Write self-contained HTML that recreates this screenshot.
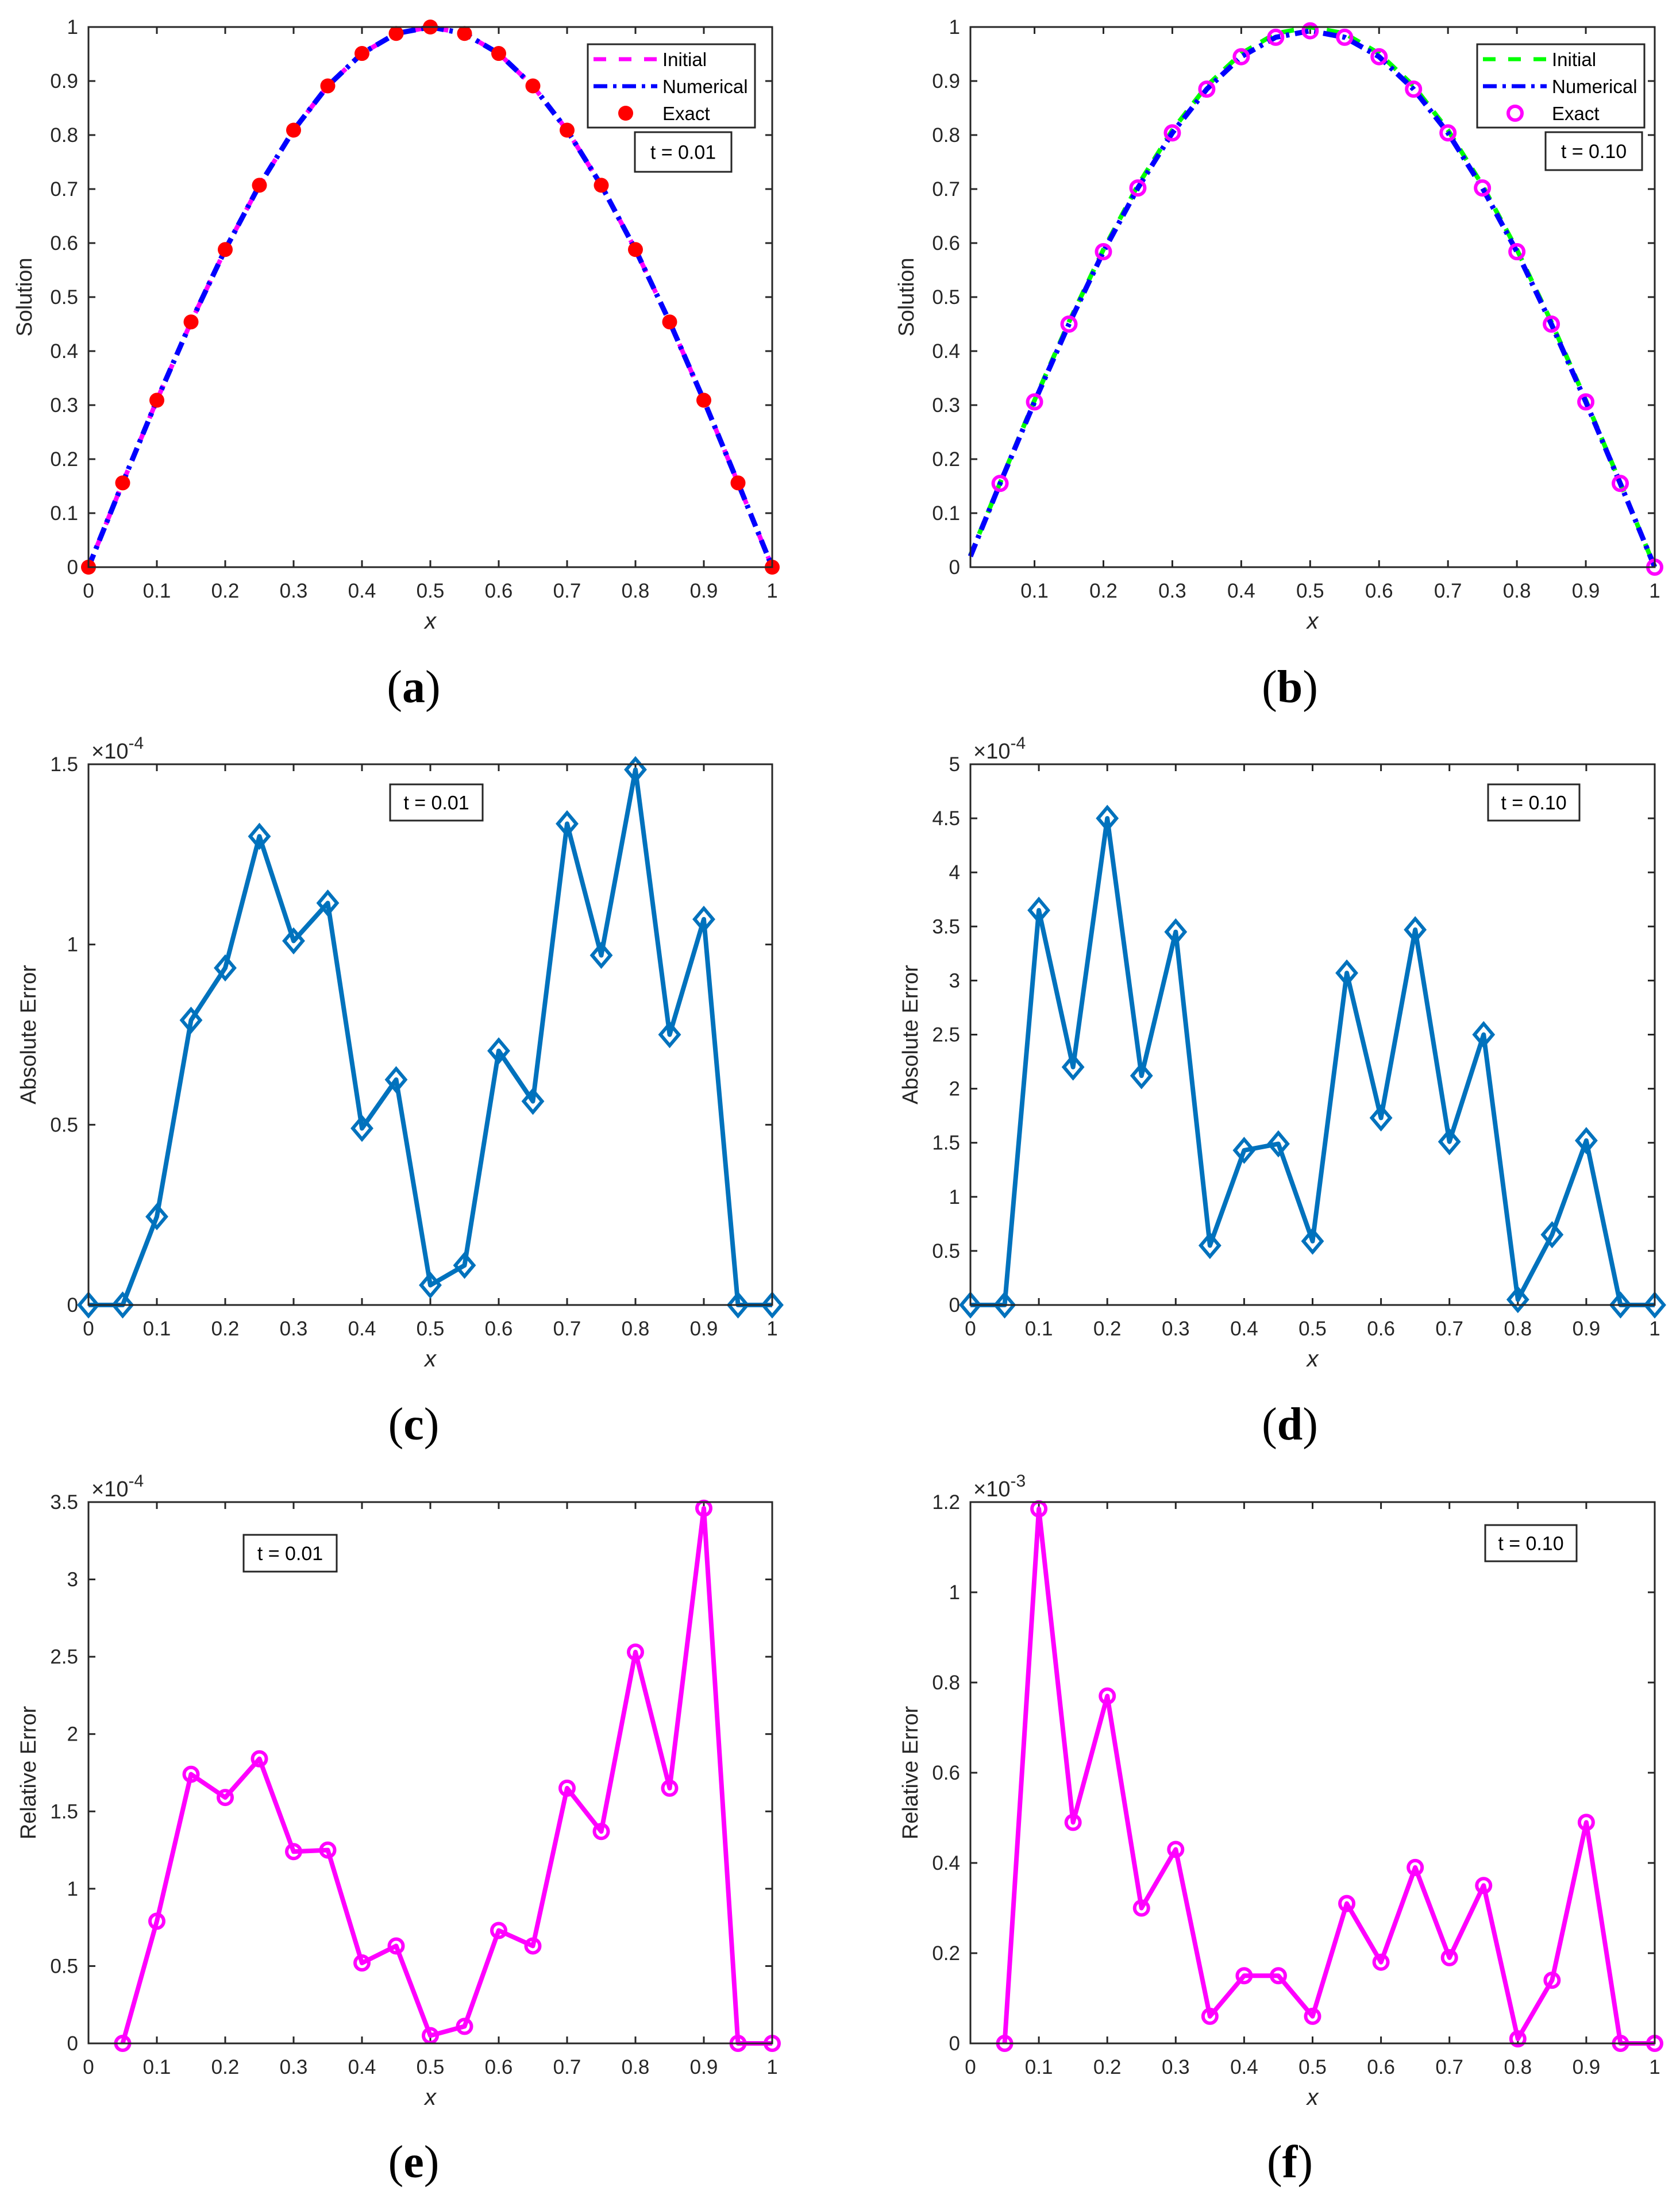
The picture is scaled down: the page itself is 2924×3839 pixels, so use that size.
<!DOCTYPE html>
<html><head><meta charset="utf-8"><style>
html,body{margin:0;padding:0;background:#fff}
svg{display:block}
text{font-family:"Liberation Sans",sans-serif;fill:#262626}
</style></head><body>
<svg id="fig" width="2924" height="3839" viewBox="0 0 2924 3839" xmlns="http://www.w3.org/2000/svg"></svg>
<script>
// ---- data ----
const xGrid = [0,0.05,0.1,0.15,0.2,0.25,0.3,0.35,0.4,0.45,0.5,0.55,0.6,0.65,0.7,0.75,0.8,0.85,0.9,0.95,1];
const aExact = [0,0.156,0.309,0.454,0.588,0.707,0.809,0.891,0.951,0.988,1,0.988,0.951,0.891,0.809,0.707,0.588,0.454,0.309,0.156,0];
const aNumerical = [0,0.156,0.309,0.454,0.588,0.707,0.809,0.891,0.951,0.988,1,0.988,0.951,0.891,0.809,0.707,0.588,0.454,0.309,0.156,0];
const bX = [0.007,0.05,0.1,0.15,0.2,0.25,0.3,0.35,0.4,0.45,0.5,0.55,0.6,0.65,0.7,0.75,0.8,0.85,0.9,0.95,1];
const bInitial = [0.022,0.156,0.309,0.454,0.588,0.707,0.809,0.891,0.951,0.988,1,0.988,0.951,0.891,0.809,0.707,0.588,0.454,0.309,0.156,0];
const bNumerical = [0.02,0.155,0.306,0.450,0.584,0.702,0.804,0.885,0.945,0.981,0.993,0.981,0.945,0.885,0.804,0.702,0.584,0.450,0.306,0.155,0];
const bExactX = [0.05,0.1,0.15,0.2,0.25,0.3,0.35,0.4,0.45,0.5,0.55,0.6,0.65,0.7,0.75,0.8,0.85,0.9,0.95,1];
const bExact = [0.155,0.306,0.450,0.584,0.702,0.804,0.885,0.945,0.981,0.993,0.981,0.945,0.885,0.804,0.702,0.584,0.450,0.306,0.155,0];
const cAbs = [0,0,0.245,0.79,0.935,1.30,1.01,1.115,0.49,0.625,0.055,0.11,0.705,0.565,1.335,0.97,1.485,0.75,1.07,0,0];
const dAbs = [0,0,3.65,2.2,4.5,2.12,3.45,0.55,1.43,1.49,0.59,3.07,1.73,3.47,1.51,2.5,0.05,0.65,1.52,0,0];
const relX = [0.05,0.1,0.15,0.2,0.25,0.3,0.35,0.4,0.45,0.5,0.55,0.6,0.65,0.7,0.75,0.8,0.85,0.9,0.95,1];
const eRel = [0,0.79,1.74,1.59,1.84,1.24,1.25,0.52,0.63,0.05,0.11,0.73,0.63,1.65,1.37,2.53,1.65,3.46,0,0];
const fRel = [0,1.185,0.49,0.77,0.30,0.43,0.06,0.15,0.15,0.06,0.31,0.18,0.39,0.19,0.35,0.01,0.14,0.49,0,0];
const xTicks01 = [0,0.1,0.2,0.3,0.4,0.5,0.6,0.7,0.8,0.9,1];
const xTicksB = [0.1,0.2,0.3,0.4,0.5,0.6,0.7,0.8,0.9,1];
const yTicksSol = [0,0.1,0.2,0.3,0.4,0.5,0.6,0.7,0.8,0.9,1];
const yTicksC = [0,0.5,1,1.5];
const yTicksD = [0,0.5,1,1.5,2,2.5,3,3.5,4,4.5,5];
const yTicksE = [0,0.5,1,1.5,2,2.5,3,3.5];
const yTicksF = [0,0.2,0.4,0.6,0.8,1,1.2];

const NS='http://www.w3.org/2000/svg';
const svg=document.getElementById('fig');
function mk(tag,attrs,parent,txt){const e=document.createElementNS(NS,tag);for(const k in attrs)e.setAttribute(k,attrs[k]);if(txt!==undefined)e.textContent=txt;(parent||svg).appendChild(e);return e;}
function fmt(v){return String(+v.toFixed(2));}

function panel(p){
  const g=mk('g',{});
  
  
  const L=p.L,T=p.T,R=p.R,B=p.B;
  const sx=v=>L+(v-p.xmin)/(p.xmax-p.xmin)*(R-L);
  const sy=v=>B-(v-p.ymin)/(p.ymax-p.ymin)*(B-T);
  const tk=mk('g',{stroke:'#262626','stroke-width':3},g);
  
  
  p.xt.forEach(v=>{const X=sx(v);
    mk('line',{x1:X,y1:B,x2:X,y2:B-12},tk);mk('line',{x1:X,y1:T,x2:X,y2:T+12},tk);
    const t=mk('text',{x:X,y:B+53,'font-size':35,'text-anchor':'middle'},g,fmt(v));
    
    });
  p.yt.forEach(v=>{const Y=sy(v);
    mk('line',{x1:L,y1:Y,x2:L+12,y2:Y},tk);mk('line',{x1:R,y1:Y,x2:R-12,y2:Y},tk);
    const t=mk('text',{x:L-18,y:Y+12,'font-size':35,'text-anchor':'end'},g,fmt(v));
    
    });
  p.series.forEach(s=>{
    const sg=mk('g',{},g);
    
    
    if(s.line){
      const pts=s.x.map((x,i)=>sx(x)+','+sy(s.y[i])).join(' ');
      mk('polyline',{points:pts,fill:'none',stroke:s.color,'stroke-width':s.w||8,'stroke-dasharray':s.dash||'none','stroke-linejoin':'round'},sg);
    }
    if(s.marker){
      s.x.forEach((x,i)=>{const X=sx(x),Y=sy(s.y[i]);
        if(s.marker==='dot')mk('circle',{cx:X,cy:Y,r:13,fill:s.mcolor},sg);
        else if(s.marker==='circle')mk('circle',{cx:X,cy:Y,r:12,fill:'none',stroke:s.mcolor,'stroke-width':6},sg);
        else if(s.marker==='diamond')mk('polygon',{points:`${X},${Y-19} ${X+16},${Y} ${X},${Y+19} ${X-16},${Y}`,fill:'none',stroke:s.mcolor,'stroke-width':6},sg);
      });
    }
  });
  const bx=mk('rect',{x:L,y:T,width:R-L,height:B-T,fill:'none',stroke:'#262626','stroke-width':3},g);
  
  
  const xl=mk('text',{x:(L+R)/2,y:B+107,'font-size':40,'font-style':'italic','text-anchor':'middle'},g,'x');
  
  
  const yl=mk('text',{x:0,y:0,'font-size':38,'text-anchor':'middle',transform:`translate(${p.ylx},${(T+B)/2}) rotate(-90)`},g,p.ylabel);
  
  
  if(p.exp){
    const ex=mk('text',{x:L+5,y:T-10,'font-size':38},g);
    
    
    mk('tspan',{},ex,'×10');
    mk('tspan',{dy:-17,'font-size':30},ex,p.exp);
  }
  const tb=mk('g',{},g);
  
  
  mk('rect',{x:p.tb[0],y:p.tb[1],width:p.tb[2],height:p.tb[3],fill:'#fff',stroke:'#262626','stroke-width':3},tb);
  mk('text',{x:p.tb[0]+p.tb[2]/2,y:p.tb[1]+p.tb[3]/2+12,'font-size':34,'text-anchor':'middle',style:'fill:#000'},tb,p.ttext);
  if(p.legend){
    const lg=mk('g',{},g);
    
    
    const [lx,ly,lw,lh]=p.legend.box;
    mk('rect',{x:lx,y:ly,width:lw,height:lh,fill:'#fff',stroke:'#262626','stroke-width':3},lg);
    p.legend.items.forEach((it,i)=>{
      const Y=ly+26+i*47;
      const e=mk('g',{},lg);
      
      
      if(it.dash!==undefined)mk('line',{x1:lx+10,y1:Y,x2:lx+121,y2:Y,stroke:it.color,'stroke-width':7,'stroke-dasharray':it.dash},e);
      if(it.marker==='dot')mk('circle',{cx:lx+66,cy:Y,r:13,fill:it.color},e);
      if(it.marker==='circle')mk('circle',{cx:lx+66,cy:Y,r:12,fill:'none',stroke:it.color,'stroke-width':6},e);
      mk('text',{x:lx+130,y:Y+12,'font-size':33,style:'fill:#000'},e,it.label);
    });
  }
  return g;
}

const LC=[154,1344], RC=[1689,2880];
const rows=[[47,987],[1330,2271],[2614,3556]];
const DD='24,10,6,10';

panel({name:'panel-a-solution',L:LC[0],R:LC[1],T:rows[0][0],B:rows[0][1],xmin:0,xmax:1,ymin:0,ymax:1,xt:xTicks01,yt:yTicksSol,ylabel:'Solution',ylx:55,
  series:[{name:'initial-line',line:true,x:xGrid,y:aExact,color:'#ff00ff',dash:'22,18'},
          {name:'numerical-line',line:true,x:xGrid,y:aNumerical,color:'#0000ff',dash:DD,w:9},
          {name:'exact-markers',marker:'dot',x:xGrid,y:aExact,mcolor:'#ff0000'}],
  tb:[1105,230,168,69],ttext:'t = 0.01',
  legend:{box:[1023,77,291,145],items:[{label:'Initial',color:'#ff00ff',dash:'22,22'},{label:'Numerical',color:'#0000ff',dash:DD},{label:'Exact',color:'#ff0000',marker:'dot'}]}});

panel({name:'panel-b-solution',L:RC[0],R:RC[1],T:rows[0][0],B:rows[0][1],xmin:0.007,xmax:1,ymin:0,ymax:1,xt:xTicksB,yt:yTicksSol,ylabel:'Solution',ylx:1590,
  series:[{name:'initial-line',line:true,x:bX,y:bInitial,color:'#00ff00',dash:'22,18'},
          {name:'numerical-line',line:true,x:bX,y:bNumerical,color:'#0000ff',dash:DD,w:9},
          {name:'exact-markers',marker:'circle',x:bExactX,y:bExact,mcolor:'#ff00ff'}],
  tb:[2690,230,168,66],ttext:'t = 0.10',
  legend:{box:[2571,77,291,145],items:[{label:'Initial',color:'#00ff00',dash:'22,22'},{label:'Numerical',color:'#0000ff',dash:DD},{label:'Exact',color:'#ff00ff',marker:'circle'}]}});

panel({name:'panel-c-absolute-error',L:LC[0],R:LC[1],T:rows[1][0],B:rows[1][1],xmin:0,xmax:1,ymin:0,ymax:1.5,xt:xTicks01,yt:yTicksC,ylabel:'Absolute Error',ylx:62,exp:'-4',
  series:[{name:'absolute-error-line',line:true,marker:'diamond',x:xGrid,y:cAbs,color:'#0072BD',mcolor:'#0072BD',w:8}],
  tb:[679,1365,161,63],ttext:'t = 0.01'});

panel({name:'panel-d-absolute-error',L:RC[0],R:RC[1],T:rows[1][0],B:rows[1][1],xmin:0,xmax:1,ymin:0,ymax:5,xt:xTicks01,yt:yTicksD,ylabel:'Absolute Error',ylx:1597,exp:'-4',
  series:[{name:'absolute-error-line',line:true,marker:'diamond',x:xGrid,y:dAbs,color:'#0072BD',mcolor:'#0072BD',w:8}],
  tb:[2590,1365,159,63],ttext:'t = 0.10'});

panel({name:'panel-e-relative-error',L:LC[0],R:LC[1],T:rows[2][0],B:rows[2][1],xmin:0,xmax:1,ymin:0,ymax:3.5,xt:xTicks01,yt:yTicksE,ylabel:'Relative Error',ylx:62,exp:'-4',
  series:[{name:'relative-error-line',line:true,marker:'circle',x:relX,y:eRel,color:'#ff00ff',mcolor:'#ff00ff',w:8}],
  tb:[424,2671,162,64],ttext:'t = 0.01'});

panel({name:'panel-f-relative-error',L:RC[0],R:RC[1],T:rows[2][0],B:rows[2][1],xmin:0,xmax:1,ymin:0,ymax:1.2,xt:xTicks01,yt:yTicksF,ylabel:'Relative Error',ylx:1597,exp:'-3',
  series:[{name:'relative-error-line',line:true,marker:'circle',x:relX,y:fRel,color:'#ff00ff',mcolor:'#ff00ff',w:8}],
  tb:[2585,2654,159,63],ttext:'t = 0.10'});

[['(a)',720,1222],['(b)',2245,1222],['(c)',720,2505],['(d)',2245,2505],['(e)',720,3789],['(f)',2245,3789]].forEach(c=>{
  const t=mk('text',{x:c[1],y:c[2],'font-size':80,'text-anchor':'middle',style:'font-family:"Liberation Serif",serif;fill:#000'});
  
  
  mk('tspan',{},t,'(');
  mk('tspan',{'font-weight':'bold'},t,c[0].slice(1,2));
  mk('tspan',{},t,')');
});
</script>
</body></html>
